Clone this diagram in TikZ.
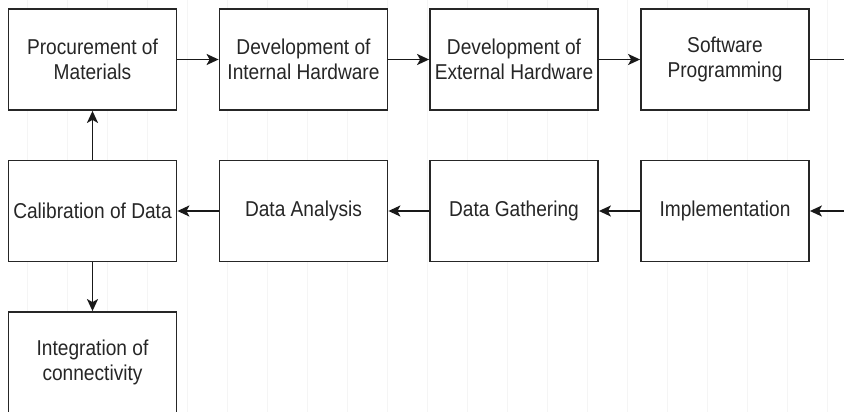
\documentclass[tikz,border=0pt]{standalone}
\usepackage{fontspec}
\setmainfont{Liberation Sans}[FakeStretch=0.89]
\usetikzlibrary{arrows.meta}

\begin{document}
\begin{tikzpicture}[x=1pt,y=-1pt,
  stagebox/.style={draw=black!85,fill=white,line width=1.8pt,minimum width=168pt,minimum height=101pt,
    inner sep=0pt,align=center,text=black!85,font=\fontsize{21.5}{25.5}\selectfont},
  flow/.style={draw=black!90,line width=1.8pt,-{Stealth[length=12pt,width=11pt,inset=3pt]}}]
\useasboundingbox (0,0) rectangle (844,412);
\clip (0,0) rectangle (844,412);
% faint page grid
\foreach \x in {27,67,...,827}
  \draw [black!4,line width=0.8pt] (\x,0) -- (\x,412);
% first row
\node [stagebox] (proc) at (92.5,59.5) {Procurement of\\Materials};
\node [stagebox] (inthw) at (303.5,59.5) {Development of\\Internal Hardware};
\node [stagebox] (exthw) at (514,59.5) {Development of\\External Hardware};
\node [stagebox] (soft) at (725,59.5) {Software\\Programming};
% second row
\node [stagebox] (calib) at (92.5,211) {Calibration of Data};
\node [stagebox] (anal) at (303.5,211) {Data Analysis};
\node [stagebox] (gath) at (514,211) {Data Gathering};
\node [stagebox] (impl) at (725,211) {Implementation};
% third row
\node [stagebox] (integ) at (92.5,362.5) {Integration of\\connectivity};
\coordinate (outr) at (846,59.5);
\coordinate (inr) at (846,211);
\draw [flow] (proc) -- (inthw);
\draw [flow] (inthw) -- (exthw);
\draw [flow] (exthw) -- (soft);
\draw [draw=black!90,line width=1.8pt] (soft.east) -- (outr);
\draw [flow] (inr) -- (impl.east);
\draw [flow] (impl) -- (gath);
\draw [flow] (gath) -- (anal);
\draw [flow] (anal) -- (calib);
\draw [flow] (calib) -- (proc);
\draw [flow] (calib) -- (integ);
\end{tikzpicture}
\end{document}
